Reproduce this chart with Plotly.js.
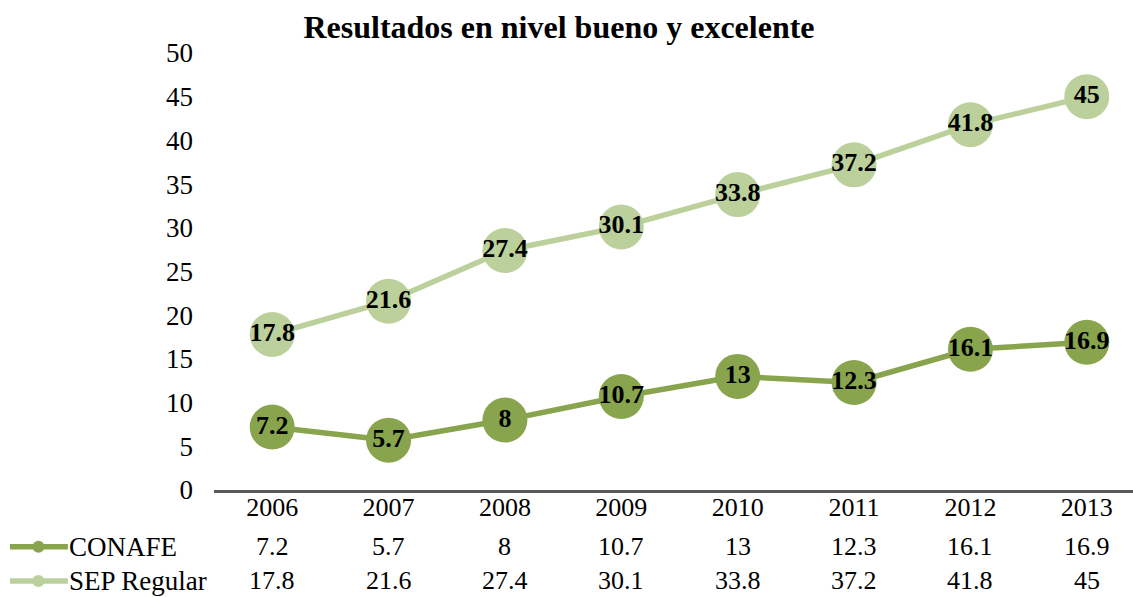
<!DOCTYPE html>
<html><head><meta charset="utf-8">
<script src="https://cdn.plot.ly/plotly-3.0.1.min.js"></script>
<style>body{margin:0;padding:0;background:#fff}#chart{width:1133px;height:597px}</style>
</head><body><div id="chart"></div>
<script>
const years = ['2006','2007','2008','2009','2010','2011','2012','2013'];
const conafe = [7.2, 5.7, 8, 10.7, 13, 12.3, 16.1, 16.9];
const sep = [17.8, 21.6, 27.4, 30.1, 33.8, 37.2, 41.8, 45];
const seriesNames = ['CONAFE', 'SEP Regular'];
const colConafe = '#88A44D';
const colSep = '#BBD09B';
const FONT = 'Liberation Serif';

function trace(vals, name, col) {
  return {
    x: years.map((_, i) => i), y: vals, name: name, type: 'scatter', mode: 'lines+markers+text',
    line: {color: col, width: 5.5},
    marker: {color: col, size: 45, line: {width: 0}},
    text: vals.map(v => String(v)), textposition: 'middle center',
    textfont: {family: FONT, size: 26, color: '#000', weight: 'bold'},
    cliponaxis: false, hoverinfo: 'skip', showlegend: false
  };
}
const data = [trace(conafe, seriesNames[0], colConafe), trace(sep, seriesNames[1], colSep)];

const annotations = [];
const rows = [conafe, sep];
const rowY = [-0.13, -0.208];
rows.forEach((vals, r) => {
  vals.forEach((v, i) => annotations.push({
    x: i, y: rowY[r], xref: 'x', yref: 'paper', text: String(v), showarrow: false,
    font: {family: FONT, size: 26, color: '#000'}, xanchor: 'center', yanchor: 'middle'
  }));
  annotations.push({
    x: -0.157, y: rowY[r], xref: 'paper', yref: 'paper', text: seriesNames[r], showarrow: false,
    font: {family: FONT, size: 27, color: '#000'}, xanchor: 'left', yanchor: 'middle', xshift: -3
  });
});
const cols = [colConafe, colSep];
const shapes = [];
rows.forEach((vals, r) => {
  shapes.push({type: 'line', xref: 'paper', yref: 'paper', x0: -0.222, x1: -0.159, y0: rowY[r], y1: rowY[r],
    line: {color: cols[r], width: 5.5}});
  shapes.push({type: 'circle', xref: 'paper', yref: 'paper', xsizemode: 'pixel', ysizemode: 'pixel',
    xanchor: -0.191, yanchor: rowY[r], x0: -6, x1: 6, y0: -6, y1: 6,
    fillcolor: cols[r], line: {width: 0}});
});

const layout = {
  width: 1133, height: 597,
  margin: {l: 214, r: 0, t: 53, b: 107},
  paper_bgcolor: '#fff', plot_bgcolor: '#fff',
  font: {family: FONT, color: '#000'},
  title: {text: '<b>Resultados en nivel bueno y excelente</b>', font: {family: FONT, size: 32, color: '#000'},
    x: 559/1133, xref: 'container', xanchor: 'center', y: 1 - 27/597, yref: 'container', yanchor: 'middle'},
  xaxis: {range: [-0.5, 7.397], tickvals: years.map((_, i) => i), ticktext: years,
    showgrid: false, zeroline: false, showline: true, linecolor: '#595959', linewidth: 3,
    ticks: '', tickfont: {family: FONT, size: 26, color: '#000'}, ticklabelstandoff: -8, fixedrange: true},
  yaxis: {range: [0, 50], dtick: 5, tick0: 0, showgrid: false, zeroline: false, showline: false,
    ticks: '', tickfont: {family: FONT, size: 27, color: '#000'}, ticklabelstandoff: 20, fixedrange: true},
  annotations: annotations, shapes: shapes, showlegend: false
};
Plotly.newPlot('chart', data, layout, {displayModeBar: false, staticPlot: true});
</script></body></html>
